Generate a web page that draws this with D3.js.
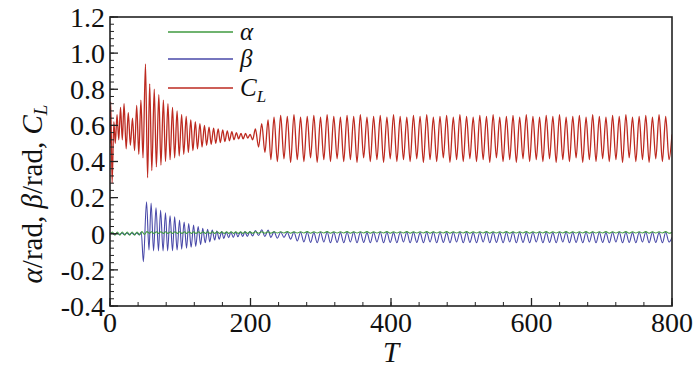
<!DOCTYPE html>
<html><head><meta charset="utf-8">
<script src="https://cdn.jsdelivr.net/npm/d3@7"></script>
<style>
html,body{margin:0;padding:0;background:#fff;}
svg text, svg tspan { font-family: "Liberation Serif", "Tinos", "Times New Roman", "Times", "FreeSerif" !important; }
</style></head>
<body>
<svg id="c" width="700" height="374"></svg>
<script>
// ---- data ----
const xTicks = [0, 200, 400, 600, 800];
const yTicks = [-0.4, -0.2, 0, 0.2, 0.4, 0.6, 0.8, 1.0, 1.2];
const yTickLabels = ["-0.4", "-0.2", "0", "0.2", "0.4", "0.6", "0.8", "1.0", "1.2"];
const seriesNames = ["α", "β", "C"];

// transient extrema [T, value]
const clTransient = [[0,0.50],[1,0.73],[3,0.28],[5.5,0.62],[7.5,0.50],[10,0.66],[12.5,0.52],[15,0.70],[17.5,0.52],[20,0.72],[23,0.47],[26,0.67],[29,0.49],[32,0.64],[35,0.46],[38,0.71],[41,0.44],[44,0.74],[47,0.42],[50.5,0.94],[53.5,0.31],[56.5,0.83],[59.5,0.35],[63,0.80],[66,0.37],[69.5,0.77],[72.5,0.38],[76,0.74],[79,0.40],[82.5,0.72],[85.5,0.41],[89,0.70],[92,0.42],[95.5,0.68],[98.5,0.43],[102,0.66],[105,0.44],[108.5,0.65],[111.5,0.45],[115,0.63],[118,0.46],[121.5,0.62],[124.5,0.47],[128,0.61],[131,0.48],[134.5,0.60],[137.5,0.49],[141,0.59],[144,0.495],[147.5,0.585],[150.5,0.50],[154,0.58],[157,0.505],[160.5,0.575],[163.5,0.51],[167,0.57],[170,0.515],[173.5,0.565],[176.5,0.52],[180,0.56],[183,0.525],[186.5,0.555],[189.5,0.525],[193,0.555],[196,0.53],[199.5,0.55],[203,0.52],[207,0.58],[211.5,0.48],[216,0.61],[220.5,0.45],[225,0.63],[229,0.41]];

const betaTransient = [[0,0.0],[3,0.004],[6.5,-0.004],[10,0.004],[13.5,-0.004],[17,0.004],[20.5,-0.004],[24,0.004],[27.5,-0.004],[31,0.004],[34.5,-0.004],[38,0.004],[41.5,-0.006],[44.5,0.01],[47.5,-0.155],[52,0.177],[55.5,-0.09],[58.5,0.17],[62,-0.095],[65.5,0.144],[69,-0.095],[72,0.13],[75.5,-0.095],[79,0.116],[82,-0.095],[85.5,0.10],[89,-0.094],[92,0.094],[95.5,-0.09],[99,0.076],[102,-0.085],[105.5,0.065],[109,-0.08],[112,0.057],[115.5,-0.075],[119,0.048],[122,-0.07],[125.5,0.04],[129,-0.06],[132,0.03],[135.5,-0.05],[139,0.024],[142,-0.045],[145.5,0.02],[149,-0.035],[152,0.015],[155.5,-0.03],[159,0.012],[162,-0.026],[165.5,0.01],[169,-0.022],[172,0.01],[175.5,-0.02],[179,0.01],[182,-0.017],[185.5,0.01],[189,-0.015],[192,0.012],[195.5,-0.015],[199,0.012],[203,-0.012],[207,0.018],[211.5,-0.01],[216,0.022],[220.5,-0.015],[225,0.02],[229,-0.02]];

const alphaTransient = [[0,0],[3.5,0.01],[7,-0.008],[10.5,0.01],[14,-0.008],[17.5,0.01],[21,-0.008],[24.5,0.01],[28,-0.008],[31.5,0.01],[35,-0.008],[38.5,0.01],[42,-0.006],[45.5,0.012],[49,-0.004],[52.5,0.012],[56,0.002],[59,0.011],[62.5,0.002],[66,0.011],[69,0.002],[72.5,0.011],[76,0.002],[79,0.011],[82.5,0.002],[86,0.011],[89,0.002],[92.5,0.011],[96,0.002],[99,0.011],[102.5,0.002],[106,0.011],[109,0.002],[112.5,0.011],[116,0.002],[119,0.011],[122.5,0.002],[126,0.011],[129,0.002],[132.5,0.011],[136,0.002],[139,0.011],[142.5,0.002],[146,0.011],[149,0.002],[152.5,0.011],[156,0.002],[159,0.011],[162.5,0.002],[166,0.011],[169,0.002],[172.5,0.011],[176,0.002],[179,0.011],[182.5,0.002],[186,0.011],[189,0.002],[192.5,0.011],[196,0.002],[199,0.011],[203,0.003],[207,0.011],[211.5,0.003],[216,0.011],[220.5,0.003],[225,0.011],[229,0.003]];

// periodic regime: one peak and one trough per cycle, uniform sampling in T
const steadyStart = 233.5;
const steadyPeriod = 9.45;
const clPeaks = [0.645,0.655,0.65,0.66,0.645,0.65,0.655,0.645,0.66,0.65,0.645,0.655,0.65,0.66,0.645,0.65,0.655,0.645,0.66,0.65,0.645,0.655,0.65,0.66,0.645,0.65,0.655,0.645,0.66,0.65,0.645,0.655,0.65,0.66,0.645,0.65,0.655,0.645,0.66,0.65,0.645,0.655,0.65,0.66,0.645,0.65,0.655,0.645,0.66,0.65,0.645,0.655,0.65,0.66,0.645,0.65,0.655,0.645,0.66,0.65];
const clTroughs = [0.40,0.415,0.395,0.41,0.40,0.42,0.395,0.41,0.40,0.415,0.40,0.41,0.395,0.42,0.40,0.41,0.395,0.415,0.40,0.41,0.40,0.415,0.395,0.41,0.40,0.42,0.395,0.41,0.40,0.415,0.40,0.41,0.395,0.42,0.40,0.41,0.395,0.415,0.40,0.41,0.40,0.415,0.395,0.41,0.40,0.42,0.395,0.41,0.40,0.415,0.40,0.41,0.395,0.42,0.40,0.41,0.395,0.415,0.40,0.41];
const betaPeaks = [0.012,0.01,0.008,0.01,0.008,0.01,0.006,0.008,0.01,0.008,0.006,0.008,0.01,0.008,0.006,0.008,0.01,0.008,0.006,0.008,0.01,0.008,0.006,0.008,0.01,0.008,0.006,0.008,0.01,0.008,0.006,0.008,0.01,0.008,0.006,0.008,0.01,0.008,0.006,0.008,0.01,0.008,0.006,0.008,0.01,0.008,0.006,0.008,0.01,0.008,0.006,0.008,0.01,0.008,0.006,0.008,0.01,0.008,0.006,0.008];
const betaTroughs = [-0.025,-0.02,-0.03,-0.04,-0.045,-0.048,-0.05,-0.046,-0.05,-0.048,-0.05,-0.046,-0.05,-0.048,-0.05,-0.046,-0.05,-0.048,-0.05,-0.046,-0.05,-0.048,-0.05,-0.046,-0.05,-0.048,-0.05,-0.046,-0.05,-0.048,-0.05,-0.046,-0.05,-0.048,-0.05,-0.046,-0.05,-0.048,-0.05,-0.046,-0.05,-0.048,-0.05,-0.046,-0.05,-0.048,-0.05,-0.046,-0.05,-0.048,-0.05,-0.046,-0.05,-0.048,-0.05,-0.046,-0.05,-0.048,-0.05,-0.046];
const alphaPeaks = [0.011,0.011,0.012,0.011,0.011,0.012,0.011,0.011,0.012,0.011,0.011,0.012,0.011,0.011,0.012,0.011,0.011,0.012,0.011,0.011,0.012,0.011,0.011,0.012,0.011,0.011,0.012,0.011,0.011,0.012,0.011,0.011,0.012,0.011,0.011,0.012,0.011,0.011,0.012,0.011,0.011,0.012,0.011,0.011,0.012,0.011,0.011,0.012,0.011,0.011,0.012,0.011,0.011,0.012,0.011,0.011,0.012,0.011,0.011,0.012];
const alphaTroughs = [0.004,0.004,0.003,0.004,0.004,0.003,0.004,0.004,0.003,0.004,0.004,0.003,0.004,0.004,0.003,0.004,0.004,0.003,0.004,0.004,0.003,0.004,0.004,0.003,0.004,0.004,0.003,0.004,0.004,0.003,0.004,0.004,0.003,0.004,0.004,0.003,0.004,0.004,0.003,0.004,0.004,0.003,0.004,0.004,0.003,0.004,0.004,0.003,0.004,0.004,0.003,0.004,0.004,0.003,0.004,0.004,0.003,0.004,0.004,0.003];
const endValues = {cl: 0.55, beta: -0.02, alpha: 0.008};

// ---- build series ----
function build(trans, peaks, troughs, endV) {
  const pts = trans.map(d => ({t: d[0], v: d[1]}));
  peaks.forEach((p, i) => {
    const t0 = steadyStart + i * steadyPeriod;
    pts.push({t: t0, v: p});
    pts.push({t: t0 + steadyPeriod / 2, v: troughs[i]});
  });
  pts.push({t: 800, v: endV});
  return pts;
}
const series = [
  {name: "alpha", color: "#3f9a3f", w: 1.1, data: build(alphaTransient, alphaPeaks, alphaTroughs, endValues.alpha)},
  {name: "beta", color: "#4848a8", w: 1.1, data: build(betaTransient, betaPeaks, betaTroughs, endValues.beta)},
  {name: "cl", color: "#bd2a20", w: 1.3, data: build(clTransient, clPeaks, clTroughs, endValues.cl)}
];

// ---- chart ----
const FONT = '"Liberation Serif", "Tinos", "Times New Roman", "Times"';
const svg = d3.select("#c");
const L = 110, R = 672, T = 17, B = 306;
const x = d3.scaleLinear().domain([0, 800]).range([L, R]);
const y = d3.scaleLinear().domain([-0.4, 1.2]).range([B, T]);

const clipId = "clipPlot";
svg.append("clipPath").attr("id", clipId).append("rect")
  .attr("x", L).attr("y", T).attr("width", R - L).attr("height", B - T);

const line = d3.line().x(d => x(d.t)).y(d => y(d.v)).curve(d3.curveMonotoneX);
const gLines = svg.append("g").attr("clip-path", `url(#${clipId})`);
[series[2], series[1], series[0]].forEach(s => {
  gLines.append("path").datum(s.data).attr("d", line)
    .attr("fill", "none").attr("stroke", s.color).attr("stroke-width", s.w)
    .attr("stroke-linejoin", "round");
});

// axes with inward ticks
const fontSize = 28;
const yMinor = d3.range(-0.4, 1.2001, 0.04);
const xMinor = d3.range(0, 800.001, 40);
const axG = svg.append("g");
axG.selectAll(".ym").data(yMinor).enter().append("line")
  .attr("x1", L).attr("x2", L + 4).attr("y1", d => y(d)).attr("y2", d => y(d))
  .attr("stroke", "#222").attr("stroke-width", 1);
axG.selectAll(".yM").data(yTicks).enter().append("line")
  .attr("x1", L).attr("x2", L + 8).attr("y1", d => y(d)).attr("y2", d => y(d))
  .attr("stroke", "#222").attr("stroke-width", 1.3);
axG.selectAll(".xm").data(xMinor).enter().append("line")
  .attr("x1", d => x(d)).attr("x2", d => x(d)).attr("y1", B).attr("y2", B - 4)
  .attr("stroke", "#222").attr("stroke-width", 1);
axG.selectAll(".xM").data(xTicks).enter().append("line")
  .attr("x1", d => x(d)).attr("x2", d => x(d)).attr("y1", B).attr("y2", B - 8)
  .attr("stroke", "#222").attr("stroke-width", 1.3);

svg.append("rect").attr("x", L).attr("y", T).attr("width", R - L).attr("height", B - T)
  .attr("fill", "none").attr("stroke", "#222").attr("stroke-width", 1.6);

axG.selectAll(".yl").data(yTicks).enter().append("text")
  .style("font-family", FONT)
  .attr("x", L - 5).attr("y", d => y(d)).attr("dy", "0.35em")
  .attr("text-anchor", "end").attr("font-size", fontSize).attr("fill", "#111")
  .text((d, i) => yTickLabels[i]);
axG.selectAll(".xl").data(xTicks).enter().append("text")
  .style("font-family", FONT)
  .attr("x", d => x(d)).attr("y", B + 26)
  .attr("text-anchor", "middle").attr("font-size", fontSize).attr("fill", "#111")
  .text(d => d);

// axis titles
svg.append("text").style("font-family", FONT)
  .attr("x", x(400)).attr("y", 362).attr("text-anchor", "middle")
  .attr("font-size", 29).attr("font-style", "italic").attr("fill", "#111").text("T");

const yt = svg.append("text").style("font-family", FONT)
  .attr("transform", `translate(42,194) rotate(-90)`)
  .attr("text-anchor", "middle").attr("font-size", 29).attr("fill", "#111");
yt.append("tspan").attr("font-style", "italic").text("α");
yt.append("tspan").text("/rad, ");
yt.append("tspan").attr("font-style", "italic").text("β");
yt.append("tspan").text("/rad, ");
yt.append("tspan").attr("font-style", "italic").text("C");
yt.append("tspan").attr("font-style", "italic").attr("font-size", 19).attr("dy", 5).text("L");

// legend
const legY = [32, 59, 88];
const leg = svg.append("g");
series.forEach((s, i) => {
  leg.append("line").attr("x1", 168).attr("x2", 233).attr("y1", legY[i]).attr("y2", legY[i])
    .attr("stroke", s.color).attr("stroke-width", 1.3);
  const t = leg.append("text").style("font-family", FONT)
    .attr("x", 240).attr("y", legY[i]).attr("dy", "0.33em")
    .attr("font-size", 25).attr("font-style", "italic").attr("fill", "#111");
  t.append("tspan").text(seriesNames[i]);
  if (i === 2) t.append("tspan").attr("font-size", 17).attr("dy", 6).text("L");
});
</script>
</body></html>
